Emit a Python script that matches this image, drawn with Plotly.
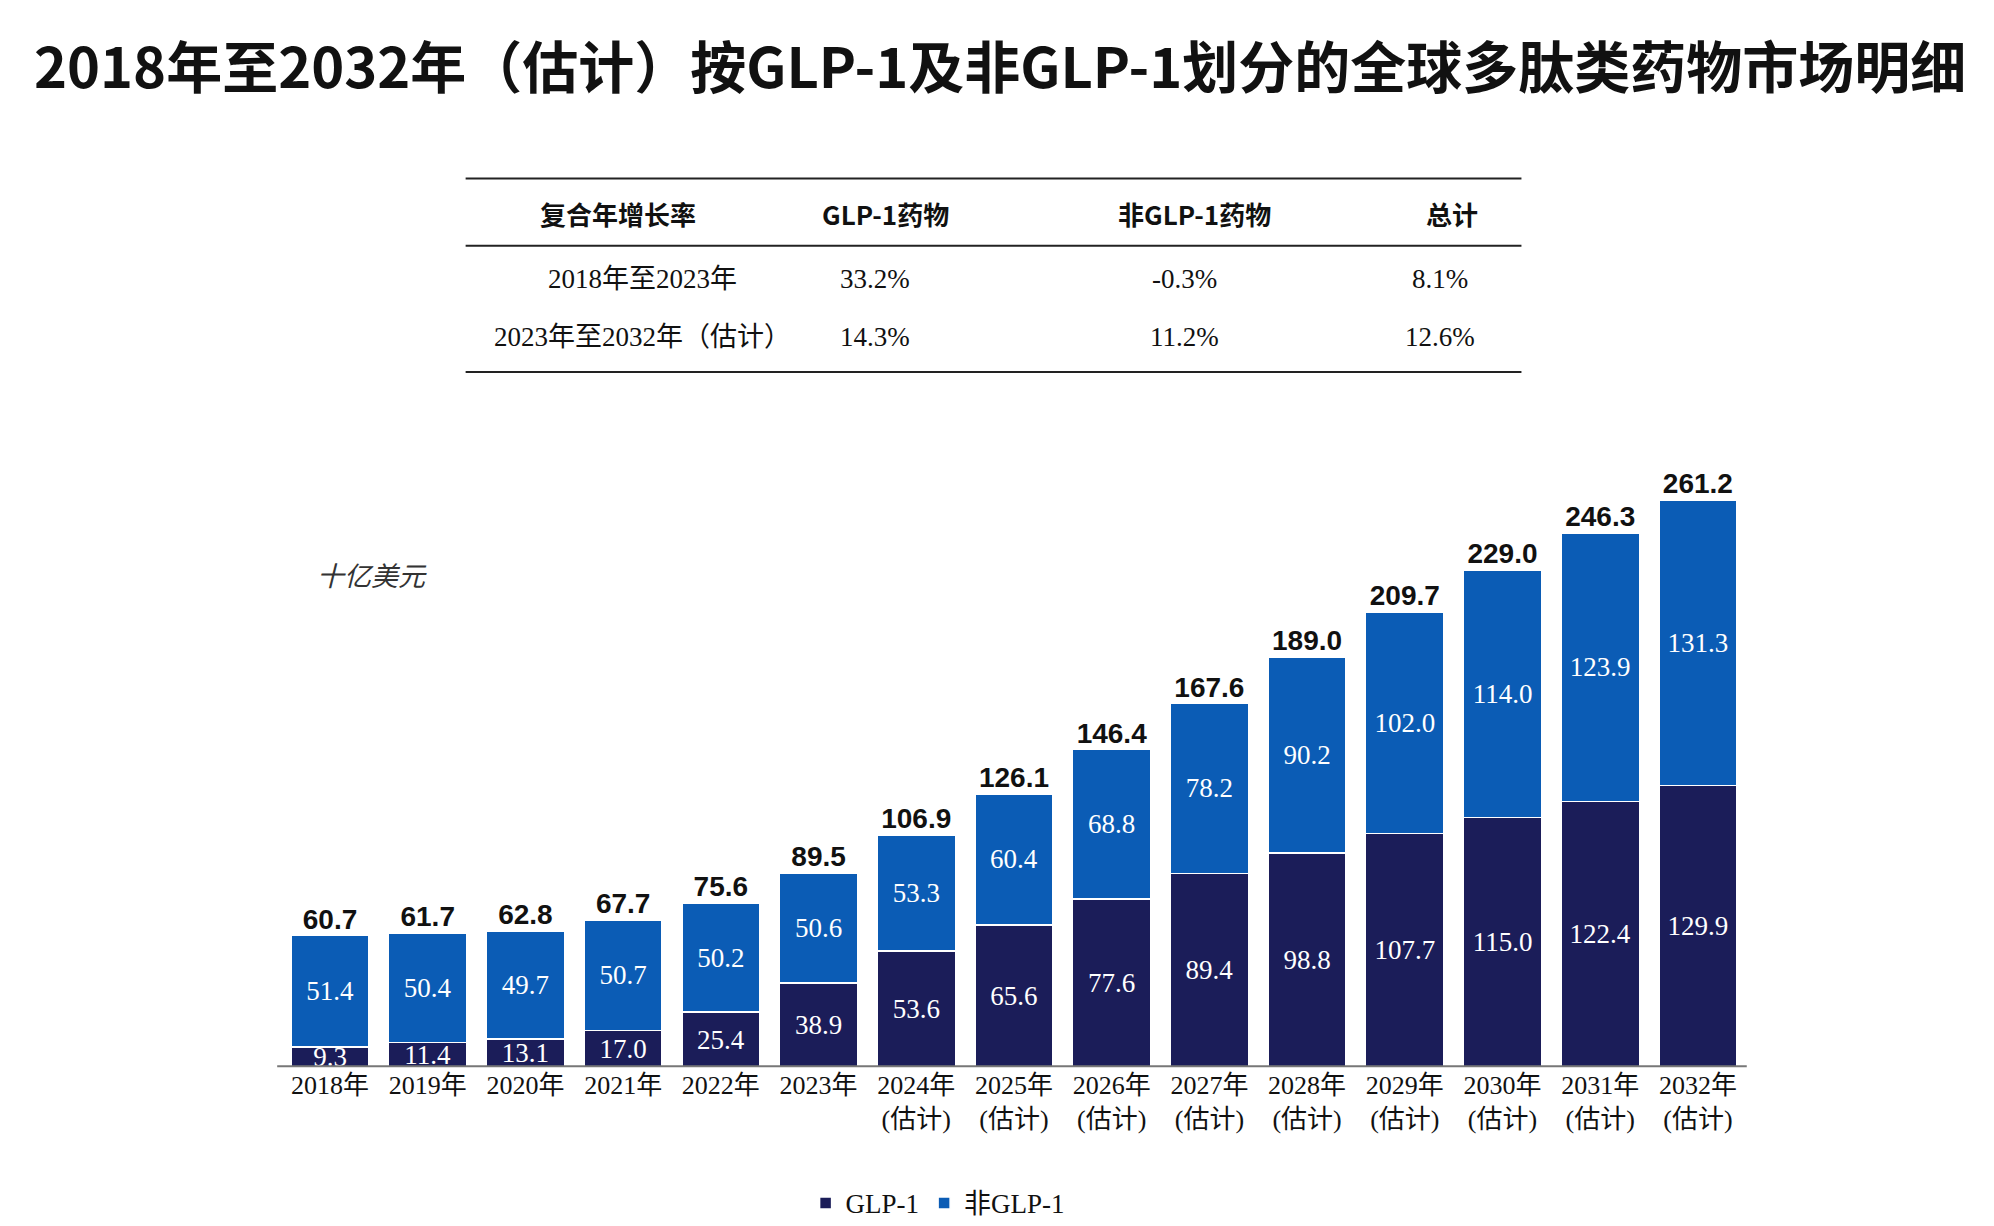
import plotly.graph_objects as go

years = ["2018年", "2019年", "2020年", "2021年", "2022年", "2023年",
         "2024年<br>(估计)", "2025年<br>(估计)", "2026年<br>(估计)", "2027年<br>(估计)",
         "2028年<br>(估计)", "2029年<br>(估计)", "2030年<br>(估计)", "2031年<br>(估计)",
         "2032年<br>(估计)"]
glp1 = [9.3, 11.4, 13.1, 17.0, 25.4, 38.9, 53.6, 65.6, 77.6, 89.4, 98.8, 107.7, 115.0, 122.4, 129.9]
non_glp1 = [51.4, 50.4, 49.7, 50.7, 50.2, 50.6, 53.3, 60.4, 68.8, 78.2, 90.2, 102.0, 114.0, 123.9, 131.3]
totals = [60.7, 61.7, 62.8, 67.7, 75.6, 89.5, 106.9, 126.1, 146.4, 167.6, 189.0, 209.7, 229.0, 246.3, 261.2]

cagr_header = ["复合年增长率", "GLP-1药物", "非GLP-1药物", "总计"]
cagr_rows = [["2018年至2023年", "33.2%", "-0.3%", "8.1%"],
             ["2023年至2032年（估计）", "14.3%", "11.2%", "12.6%"]]

SERIF = "Liberation Serif, Noto Sans CJK SC"
SANS = "Noto Sans CJK SC, Liberation Sans"
NAVY = "#1b1d59"
BLUE = "#0b5cb5"

x = list(range(len(years)))
fig = go.Figure()
fig.add_bar(x=x, y=glp1, name="GLP-1", marker=dict(color=NAVY, line=dict(color="white", width=1.5)),
            text=[f"{v:.1f}" for v in glp1], textposition="inside", insidetextanchor="middle",
            constraintext="none", textangle=0, cliponaxis=False,
            textfont=dict(family=SERIF, size=27, color="white"))
fig.add_bar(x=x, y=non_glp1, name="非GLP-1", marker=dict(color=BLUE, line=dict(color="white", width=1.5)),
            text=[f"{v:.1f}" for v in non_glp1], textposition="inside", insidetextanchor="middle",
            constraintext="none", textangle=0,
            textfont=dict(family=SERIF, size=27, color="white"))
fig.add_scatter(x=x, y=totals, mode="text", text=[f"<b>{v:.1f}</b>" for v in totals],
                textposition="top center", showlegend=False,
                textfont=dict(family="Liberation Sans", size=28, color="#111"))

ann = []
shapes = []
ann.append(dict(x=0.012, y=0.955, xref="paper", yref="paper", xanchor="left", yanchor="middle",
                showarrow=False, text="<b>2018年至2032年（估计）按GLP-1及非GLP-1划分的全球多肽类药物市场明细</b>",
                font=dict(family=SANS, size=56, color="#111")))
for yy in [0.861, 0.806, 0.703]:
    shapes.append(dict(type="line", xref="paper", yref="paper", x0=0.2295, x1=0.759, y0=yy, y1=yy,
                       line=dict(color="#222", width=2)))
hx = [0.306, 0.44, 0.595, 0.724]
for t, xx in zip(cagr_header, hx):
    ann.append(dict(x=xx, y=0.832, xref="paper", yref="paper", xanchor="center", yanchor="middle",
                    showarrow=False, text=f"<b>{t}</b>",
                    font=dict(family=SANS, size=26, color="#111")))
rx = [0.318, 0.435, 0.59, 0.718]
for row, yy in zip(cagr_rows, [0.779, 0.732]):
    for t, xx in zip(row, rx):
        ann.append(dict(x=xx, y=yy, xref="paper", yref="paper", xanchor="center", yanchor="middle",
                        showarrow=False, text=t,
                        font=dict(family=SERIF, size=27, color="#111")))
ann.append(dict(x=0.154, y=0.538, xref="paper", yref="paper", xanchor="left", yanchor="middle",
                showarrow=False, text="<i>十亿美元</i>", font=dict(family=SANS, size=27, color="#333")))
shapes.append(dict(type="line", xref="paper", yref="y", x0=0.135, x1=0.872, y0=0, y1=0,
                   line=dict(color="#777", width=4)))

fig.update_layout(
    width=1994, height=1226, barmode="stack", bargap=0.2,
    margin=dict(l=0, r=0, t=0, b=0), paper_bgcolor="white", plot_bgcolor="white",
    xaxis=dict(domain=[0.137, 0.872], range=[-0.5, 14.5], tickvals=x, ticktext=years, tickangle=0,
               tickfont=dict(family=SERIF, size=26, color="#111"), showgrid=False, zeroline=False),
    yaxis=dict(domain=[0.136, 0.667], range=[0, 300], visible=False),
    legend=dict(orientation="h", x=0.40, y=0.005, xanchor="left", yanchor="bottom", traceorder="normal",
                font=dict(family=SERIF, size=27, color="#111")),
    annotations=ann, shapes=shapes,
)
fig.write_html("out.html")
